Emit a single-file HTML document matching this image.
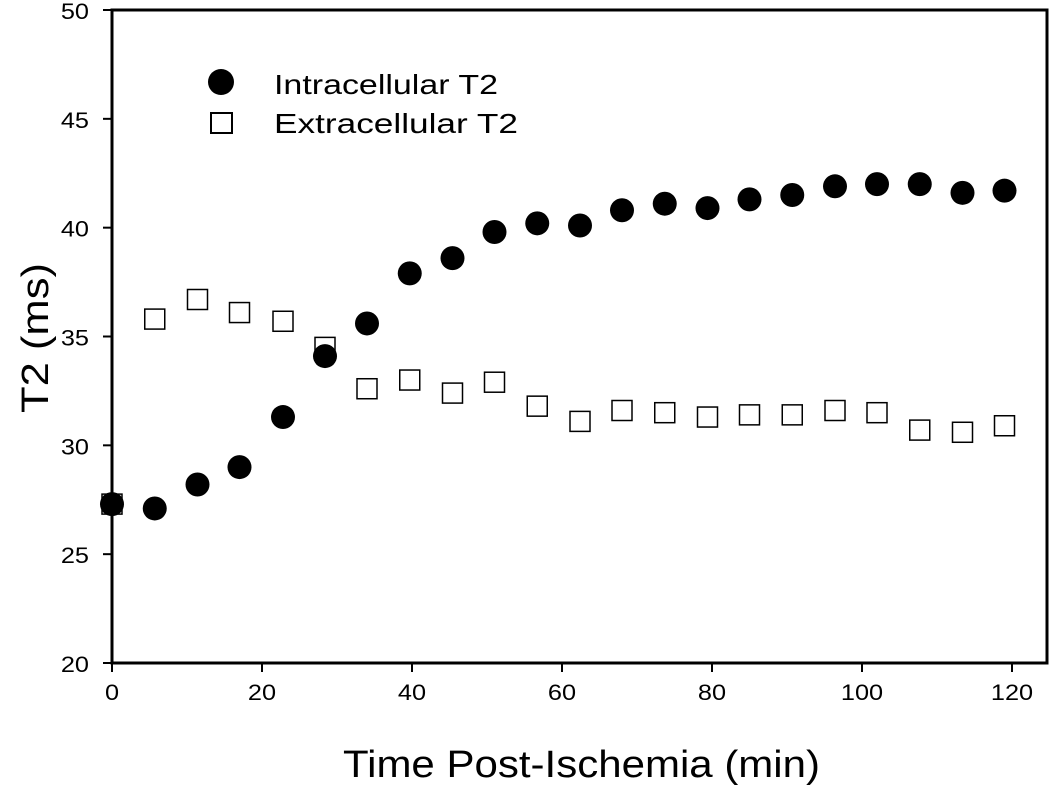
<!DOCTYPE html>
<html><head><meta charset="utf-8"><style>body{margin:0;background:#fff}svg{display:block}text{font-family:"Liberation Sans",Arial,sans-serif}</style></head>
<body>
<svg id="chart" width="1050" height="785" viewBox="0 0 1050 785" xmlns="http://www.w3.org/2000/svg"></svg>
<script>
const times=[0,5.7,11.4,17,22.8,28.4,34,39.7,45.4,51,56.7,62.4,68,73.7,79.4,85,90.7,96.4,102,107.7,113.4,119];
const intraT2=[27.3,27.1,28.2,29.0,31.3,34.1,35.6,37.9,38.6,39.8,40.2,40.1,40.8,41.1,40.9,41.3,41.5,41.9,42.0,42.0,41.6,41.7];
const extraT2=[27.3,35.8,36.7,36.1,35.7,34.5,32.6,33.0,32.4,32.9,31.8,31.1,31.6,31.5,31.3,31.4,31.4,31.6,31.5,30.7,30.6,30.9];
const xTicks=[0,20,40,60,80,100,120];
const yTicks=[20,25,30,35,40,45,50];
const NS='http://www.w3.org/2000/svg',svg=document.getElementById('chart');
const L=112,R=1047,T=10,B=663;
const x=v=>L+v*7.5, y=v=>B-(v-20)*(B-T)/30;
function mk(t,a,p){const e=document.createElementNS(NS,t);for(const k in a)e.setAttribute(k,a[k]);(p||svg).appendChild(e);return e;}
let e=mk('rect',{x:L,y:T,width:R-L,height:B-T,fill:'none',stroke:'#000','stroke-width':3});


xTicks.forEach(v=>{mk('line',{x1:x(v),x2:x(v),y1:B,y2:B+9,stroke:'#000','stroke-width':2});
 const t=mk('text',{x:x(v),y:B+37,'font-size':22,'text-anchor':'middle',transform:`translate(${x(v)},0) scale(1.15,1) translate(${-x(v)},0)`});t.textContent=v;
 
 });
yTicks.forEach(v=>{mk('line',{x1:L-9,x2:L,y1:y(v),y2:y(v),stroke:'#000','stroke-width':2});
 const ax=L-23;
 const t=mk('text',{x:ax,y:y(v)+9,'font-size':22,'text-anchor':'end',transform:`translate(${ax},0) scale(1.15,1) translate(${-ax},0)`});t.textContent=v;
 
 });
let xt=mk('text',{x:343,y:777,'font-size':38,textLength:477,lengthAdjust:'spacingAndGlyphs'});xt.textContent='Time Post-Ischemia (min)';


let yt=mk('text',{x:0,y:0,'font-size':38,'text-anchor':'middle',textLength:150,lengthAdjust:'spacingAndGlyphs',transform:'translate(48,338) rotate(-90)'});yt.textContent='T2 (ms)';


times.forEach((t,i)=>{const s=mk('rect',{x:x(t)-10,y:y(extraT2[i])-10,width:20,height:20,fill:'#fff',stroke:'#000','stroke-width':1.5});
 
 });
times.forEach((t,i)=>{const c=mk('circle',{cx:x(t),cy:y(intraT2[i]),r:12,fill:'#000'});
 
 });
const lg=mk('g',{});
mk('circle',{cx:221,cy:82,r:13,fill:'#000'},lg);
let l1=mk('text',{x:274,y:94,'font-size':28,textLength:224,lengthAdjust:'spacingAndGlyphs'},lg);l1.textContent='Intracellular T2';


mk('rect',{x:211,y:113,width:21,height:20,fill:'#fff',stroke:'#000','stroke-width':2},lg);
let l2=mk('text',{x:274,y:133,'font-size':28,textLength:244,lengthAdjust:'spacingAndGlyphs'},lg);l2.textContent='Extracellular T2';


</script>
</body></html>
